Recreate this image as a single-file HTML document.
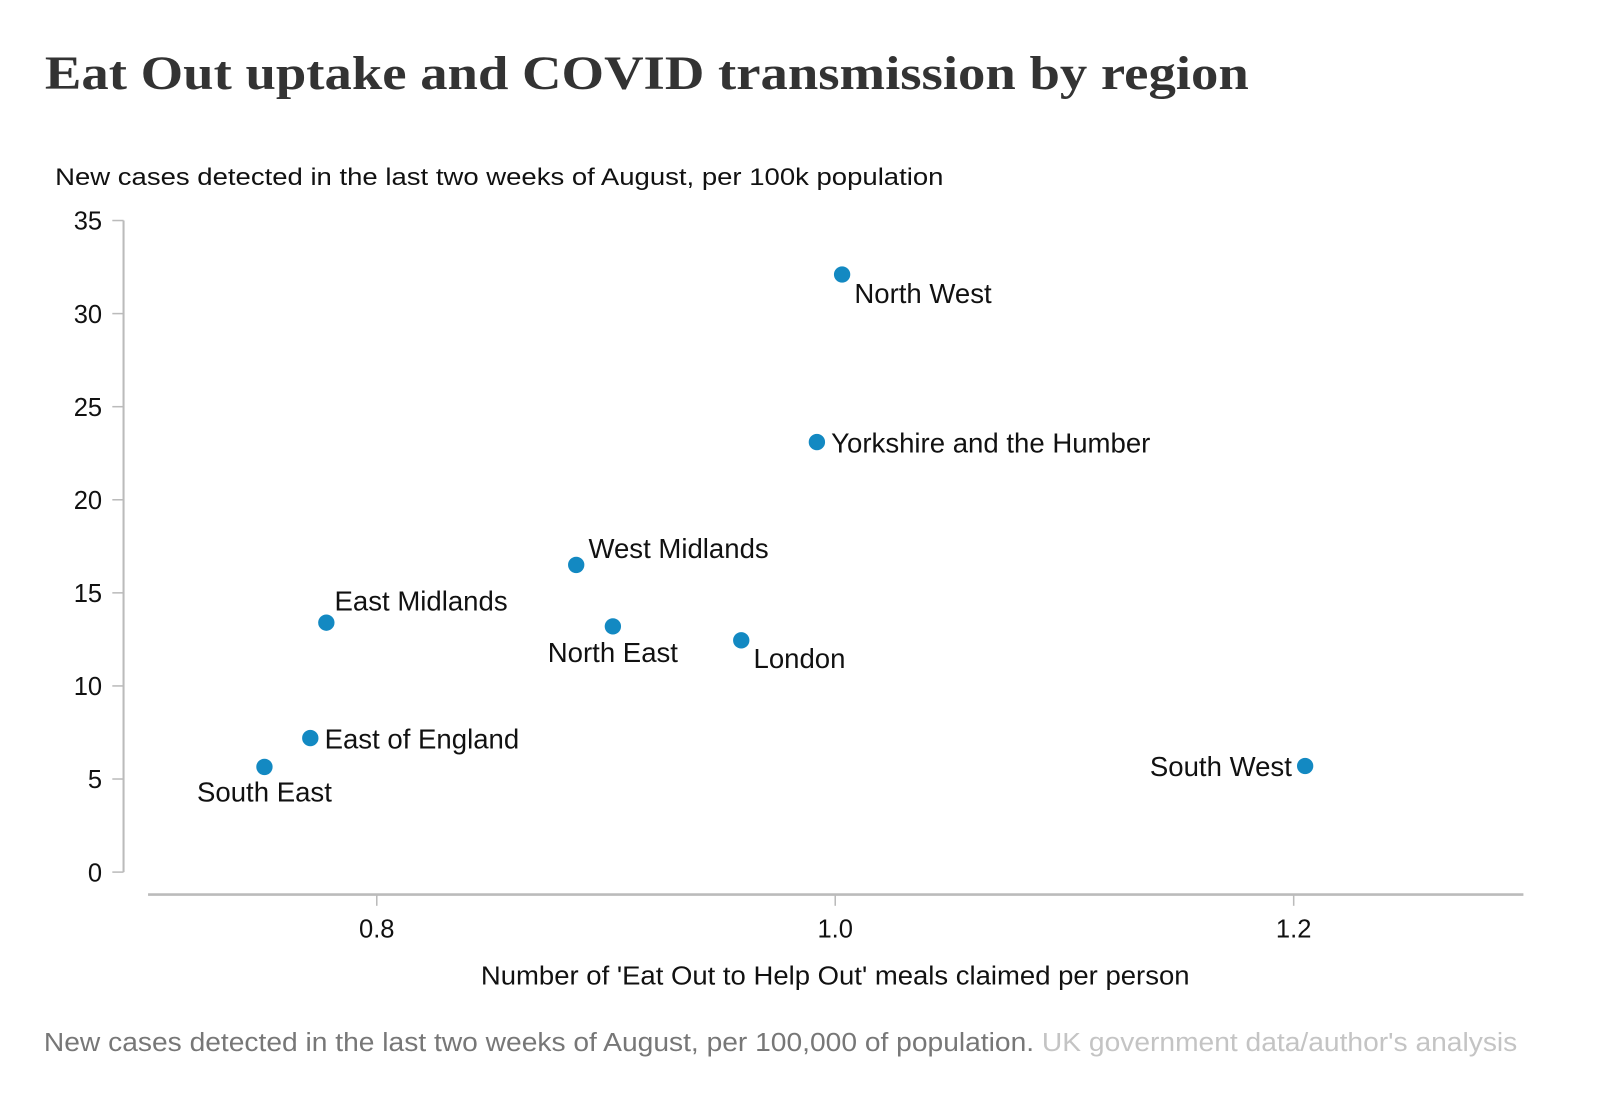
<!DOCTYPE html>
<html><head><meta charset="utf-8"><style>
html,body{margin:0;padding:0;background:#fff}
svg{display:block}
text{font-family:"Liberation Sans",Arial,sans-serif}
</style></head><body>
<svg width="1600" height="1108" viewBox="0 0 1567 1085" preserveAspectRatio="none" xmlns="http://www.w3.org/2000/svg">
<text x="44" y="87" font-weight="bold" font-size="47" fill="#333" textLength="1179" lengthAdjust="spacingAndGlyphs" style="font-family:'Liberation Serif',serif">Eat Out uptake and COVID transmission by region</text>
<text x="54" y="181" font-size="24" fill="#111" textLength="870" lengthAdjust="spacingAndGlyphs">New cases detected in the last two weeks of August, per 100k population</text>
<g id="yaxis"></g>
<g id="xaxis"></g>
<g id="points"></g>
<text x="471" y="964" font-size="25" fill="#111" textLength="694" lengthAdjust="spacingAndGlyphs">Number of 'Eat Out to Help Out' meals claimed per person</text>
<text x="43" y="1029" font-size="25" textLength="1443" lengthAdjust="spacingAndGlyphs"><tspan fill="#777">New cases detected in the last two weeks of August, per 100,000 of population. </tspan><tspan fill="#c4c4c4">UK government data/author's analysis</tspan></text>
</svg>
<script>
const regions = ["North West","Yorkshire and the Humber","West Midlands","East Midlands","North East","London","East of England","South East","South West"];
const mealsPerPerson = [1.003,0.992,0.887,0.778,0.903,0.959,0.771,0.751,1.205];
const casesPer100k = [32.1,23.1,16.5,13.4,13.2,12.45,7.2,5.65,5.7];
const yTicks = [0,5,10,15,20,25,30,35];
const xTicks = [0.8,1.0,1.2];
const xTickLabels = ["0.8","1.0","1.2"];

const NS="http://www.w3.org/2000/svg";
function X(v){return 369+(v-0.8)*2245;}
function Y(v){return 854-v*18.23;}
function mk(t,a,p){const e=document.createElementNS(NS,t);for(const k in a)e.setAttribute(k,a[k]);p.appendChild(e);return e;}
const ya=document.getElementById('yaxis'),xa=document.getElementById('xaxis'),pts=document.getElementById('points');
mk('line',{x1:121,x2:121,y1:Y(35),y2:Y(0),stroke:'#bbb','stroke-width':2},ya);
yTicks.forEach(t=>{
  const l=mk('line',{x1:110,x2:121,y1:Y(t),y2:Y(t),stroke:'#bbb','stroke-width':1.5},ya);
  
  
  const tx=mk('text',{x:100,y:Y(t)+9,'text-anchor':'end','font-size':25,fill:'#111'},ya);
  tx.textContent=t;
  
  
});
mk('line',{x1:145,x2:1492,y1:876,y2:876,stroke:'#bbb','stroke-width':2.5},xa);
xTicks.forEach((t,i)=>{
  const l=mk('line',{x1:X(t),x2:X(t),y1:876,y2:887,stroke:'#bbb','stroke-width':1.5},xa);
  
  
  const tx=mk('text',{x:X(t),y:918,'text-anchor':'middle','font-size':25,fill:'#111'},xa);
  tx.textContent=xTickLabels[i];
  
  
});
const lab={"North West":[12,28,'start'],"Yorkshire and the Humber":[14,10,'start'],"West Midlands":[12,-7,'start'],"East Midlands":[8,-12,'start'],"North East":[0,35,'middle'],"London":[12,27,'start'],"East of England":[14,10,'start'],"South East":[0,34,'middle'],"South West":[-13,10,'end']};
regions.forEach((r,i)=>{
  const cx=X(mealsPerPerson[i]),cy=Y(casesPer100k[i]);
  const c=mk('circle',{cx:cx,cy:cy,r:8,fill:'#1389c2'},pts);
  
  
  const L=lab[r];
  const t=mk('text',{x:cx+L[0],y:cy+L[1],'text-anchor':L[2],'font-size':27,fill:'#111'},pts);
  t.textContent=r;
  
  
});
</script>
</body></html>
